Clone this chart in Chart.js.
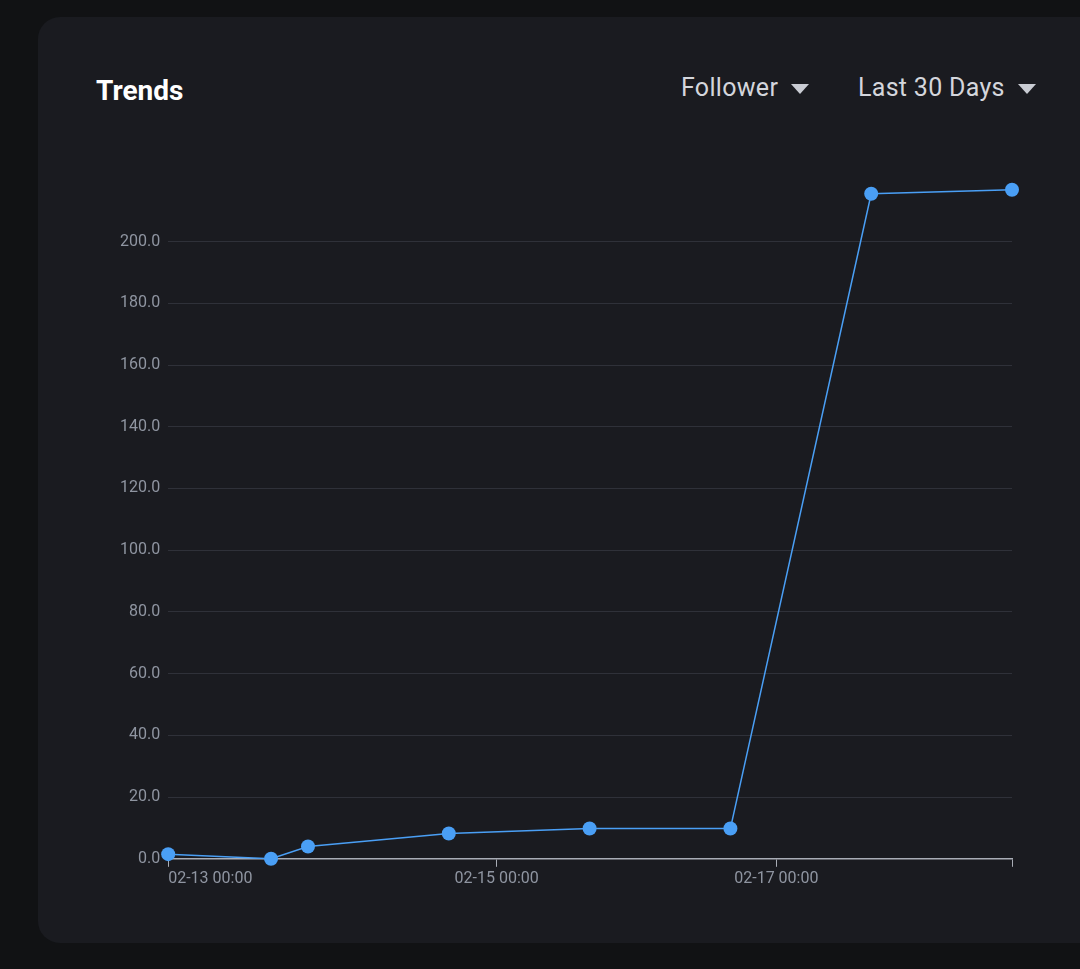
<!DOCTYPE html>
<html>
<head>
<meta charset="utf-8">
<script src="https://cdn.jsdelivr.net/npm/chart.js@4"></script>
<style>
  body { margin: 0; background: #111214; width: 1080px; height: 969px; overflow: hidden; font-family: Roboto, sans-serif; }
  .card { position: absolute; left: 38px; top: 17px; width: 1080px; height: 926px; background: #1a1b20; border-radius: 22px; }
  .title { position: absolute; left: 96px; top: 74px; color: #fff; font-size: 28px; font-weight: 700; }
  .sel { position: absolute; top: 73px; color: #d4d6dc; font-size: 25px; letter-spacing: 0.3px; }
  .sel span { display: inline-block; width: 0; height: 0; border-left: 9px solid transparent; border-right: 9px solid transparent; border-top: 10px solid #c9ccd3; margin-left: 13px; vertical-align: middle; }
  .wrap { position: absolute; left: 112px; top: 168px; width: 918px; height: 724px; }
</style>
</head>
<body>
<div class="card"></div>
<div class="title">Trends</div>
<div class="sel" style="left:681px">Follower<span></span></div>
<div class="sel" style="left:858px">Last 30 Days<span></span></div>
<div class="wrap"><canvas id="c"></canvas></div>
<script>
// --- Дані ---
const timePos = [0, 103, 140, 281, 422, 563, 704, 845];
const followers = [1.5, 0, 4, 8.2, 9.8, 9.8, 215.5, 216.8];
const xTickPos = [0, 329, 609];
const xTickLabels = ["02-13 00:00", "02-15 00:00", "02-17 00:00"];

const points = timePos.map((x, i) => ({ x: x, y: followers[i] }));

new Chart(document.getElementById("c"), {
  type: "line",
  data: {
    datasets: [{
      data: points,
      borderColor: "#4a9ff5",
      backgroundColor: "#4a9ff5",
      borderWidth: 1.5,
      pointRadius: 7,
      pointBackgroundColor: "#4a9ff5",
      pointBorderWidth: 0,
      tension: 0,
      clip: false
    }]
  },
  options: {
    responsive: true,
    maintainAspectRatio: false,
    animation: false,
    plugins: { legend: { display: false }, tooltip: { enabled: false } },
    layout: { padding: { top: 18, right: 18, left: 0, bottom: 0 } },
    scales: {
      x: {
        type: "linear",
        min: 0, max: 845,
        afterBuildTicks: (axis) => { axis.ticks = xTickPos.map((v) => ({ value: v })).concat([{ value: 845 }]); },
        ticks: {
          color: "#8f95a1", font: { size: 16, family: "Roboto" }, maxRotation: 0, autoSkip: false, align: "inner",
          callback: (v) => { const i = xTickPos.indexOf(v); return i >= 0 ? xTickLabels[i] : ""; }
        },
        grid: { drawOnChartArea: false, drawTicks: true, tickLength: 8, color: "#a9adb6" },
        border: { color: "#a9adb6", width: 1.5 }
      },
      y: {
        min: 0, max: 218,
        afterBuildTicks: (axis) => { axis.ticks = axis.ticks.filter((t) => t.value <= 200); },
        ticks: { stepSize: 20, color: "#8f95a1", font: { size: 16, family: "Roboto" }, padding: 8, callback: (v) => v.toFixed(1) },
        grid: { color: "#2f3139", drawTicks: false },
        border: { display: false }
      }
    }
  }
});
</script>
</body>
</html>
